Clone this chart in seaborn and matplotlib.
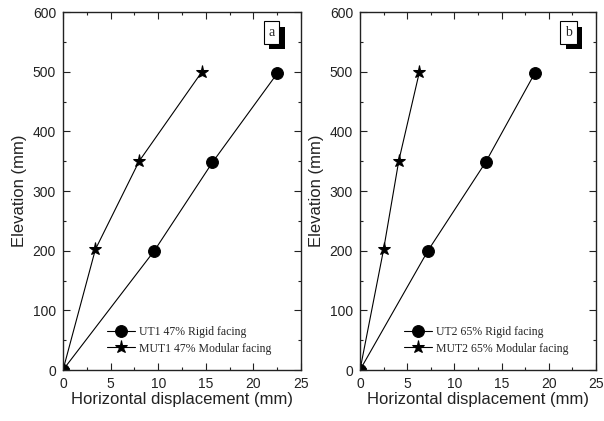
import matplotlib
matplotlib.use("Agg")
import matplotlib.pyplot as plt
import matplotlib.patheffects as pe
from matplotlib.ticker import MultipleLocator
import numpy as np
import pandas as pd
import seaborn as sns

# Elevation of measurement points (mm)
elevation = [0, 200, 348, 497]
elevation_mod = [0, 202, 350, 500]

# Horizontal displacement (mm), panel a
ut1_rigid = [0, 9.6, 15.7, 22.5]
mut1_modular = [0, 3.4, 8.0, 14.6]

# Horizontal displacement (mm), panel b
ut2_rigid = [0, 7.2, 13.3, 18.5]
mut2_modular = [0, 2.5, 4.1, 6.3]

labels_a = ["UT1 47% Rigid facing", "MUT1 47% Modular facing"]
labels_b = ["UT2 65% Rigid facing", "MUT2 65% Modular facing"]
panel_tags = ["a", "b"]

sns.set_theme(style="ticks")
plt.rcParams["font.family"] = ["Liberation Sans", "DejaVu Sans"]

fig = plt.figure(figsize=(6.04, 4.21), dpi=100)
ax_a = fig.add_axes([63 / 604, 51 / 421, 238 / 604, 358 / 421])
ax_b = fig.add_axes([360 / 604, 51 / 421, 236 / 604, 358 / 421])


def build(disp_rigid, disp_mod, labels):
    return pd.DataFrame({
        "disp": list(disp_rigid) + list(disp_mod),
        "elev": list(elevation) + list(elevation_mod),
        "series": [labels[0]] * len(disp_rigid) + [labels[1]] * len(disp_mod),
    })


panels = [
    (ax_a, build(ut1_rigid, mut1_modular, labels_a), labels_a, panel_tags[0], 0.876),
    (ax_b, build(ut2_rigid, mut2_modular, labels_b), labels_b, panel_tags[1], 0.883),
]

for ax, df, labels, tag, tag_x in panels:
    sns.lineplot(
        data=df, x="disp", y="elev", hue="series", style="series",
        palette={labels[0]: "black", labels[1]: "black"},
        markers={labels[0]: "o", labels[1]: "*"},
        dashes=False, sort=False, ax=ax, linewidth=0.8,
        markersize=8.5, markeredgecolor="black", clip_on=True,
    )
    # star marker slightly larger than the circle
    for line in ax.get_lines():
        if line.get_marker() == "*":
            line.set_markersize(9.5)

    ax.set_xlim(0, 25)
    ax.set_ylim(0, 600)
    ax.xaxis.set_major_locator(MultipleLocator(5))
    ax.xaxis.set_minor_locator(MultipleLocator(2.5))
    ax.yaxis.set_major_locator(MultipleLocator(100))
    ax.yaxis.set_minor_locator(MultipleLocator(50))
    ax.tick_params(which="both", direction="in", top=True, right=True,
                   color="#222222", width=0.8, labelsize=10, pad=5,
                   labelcolor="#222222")
    ax.tick_params(which="major", length=5)
    ax.tick_params(which="minor", length=2.5)
    for s in ax.spines.values():
        s.set_linewidth(1.0)
        s.set_color("#222222")
    ax.set_xlabel("Horizontal displacement (mm)", fontsize=12, labelpad=1,
                  color="#222222")
    ax.set_ylabel("Elevation (mm)", fontsize=12, labelpad=4, color="#222222")

    leg = ax.legend(
        loc="lower left", bbox_to_anchor=(0.165, 0.03), frameon=False,
        prop={"family": "Liberation Serif", "size": 8.5},
        handlelength=2.4, handletextpad=0.3, labelspacing=0.35,
        borderaxespad=0,
    )
    for h in leg.legend_handles:
        h.set_color("black")
        h.set_markeredgecolor("black")
        h.set_markerfacecolor("black")

    t = ax.text(tag_x, 0.943, tag, transform=ax.transAxes, ha="center", va="center",
                fontsize=10, family="Liberation Serif",
                bbox=dict(boxstyle="square,pad=0.35", facecolor="white",
                          edgecolor="black", linewidth=0.8))
    t.get_bbox_patch().set_path_effects([
        pe.SimplePatchShadow(offset=(4, -4), shadow_rgbFace="black", alpha=1.0),
        pe.Normal(),
    ])

fig.savefig("out.png", dpi=100)
